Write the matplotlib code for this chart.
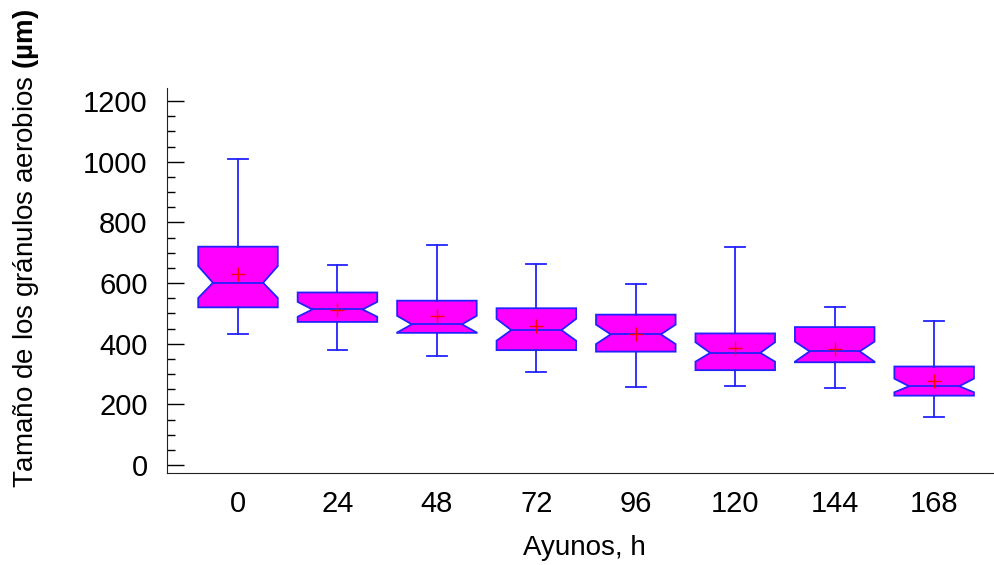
import matplotlib
matplotlib.use("Agg")
import numpy as np
import matplotlib.pyplot as plt
from matplotlib.ticker import MultipleLocator

plt.rcParams['font.family'] = ['Liberation Sans', 'DejaVu Sans']
plt.rcParams['mathtext.fontset'] = 'custom'
plt.rcParams['mathtext.rm'] = 'Liberation Sans'
plt.rcParams['mathtext.bf'] = 'Liberation Sans:bold'

categories = ["0", "24", "48", "72", "96", "120", "144", "168"]
whis_hi = [1010, 658, 726, 662, 598, 718, 520, 476]
q3 = [720, 569, 542, 517, 496, 434, 455, 325]
ci_hi = [656, 538, 492, 482, 463, 405, 407, 285]
medians = [601, 513, 464, 445, 431, 370, 375, 260]
ci_lo = [551, 489, 437, 410, 399, 341, 341, 240]
q1 = [520, 472, 436, 379, 374, 313, 339, 229]
whis_lo = [432, 379, 359, 306, 258, 262, 253, 159]
means = [630, 511, 492, 459, 431, 385, 382, 278]

stats = []
for i, c in enumerate(categories):
    stats.append(dict(label=c, med=medians[i], q1=q1[i], q3=q3[i],
                      whislo=whis_lo[i], whishi=whis_hi[i],
                      cilo=ci_lo[i], cihi=ci_hi[i], mean=means[i], fliers=[]))

fig = plt.figure(figsize=(9.94, 5.65), dpi=100)
ax = fig.add_axes([0.168, 1 - 473 / 565, 1 - 0.168, (473 - 88) / 565])

edge = '#2222ff'
width = 0.8
positions = list(range(len(categories)))
res = ax.bxp(stats, positions=positions, widths=width, shownotches=True,
             showmeans=True, showfliers=False, patch_artist=True,
             capwidths=0.2,
             boxprops=dict(facecolor='#ff00ff', edgecolor=edge, linewidth=1.3),
             medianprops=dict(color=edge, linewidth=1.3),
             whiskerprops=dict(color=edge, linewidth=1.3),
             capprops=dict(color=edge, linewidth=1.3),
             meanprops=dict(marker='+', markeredgecolor='red', markersize=10,
                            markeredgewidth=1.0))

# shallower notches (inner half-width 0.315 of box width instead of 0.25)
inner = 0.315 * width
for pos, box, med in zip(positions, res['boxes'], res['medians']):
    verts = box.get_path().vertices
    for v in verts:
        if abs(abs(v[0] - pos) - 0.25 * width) < 1e-6:
            v[0] = pos + np.sign(v[0] - pos) * inner
    med.set_xdata([pos - inner, pos + inner])

ax.set_xlim(-0.714, -0.714 + 827 / 99.45)
ax.set_ylim(-26, 1243)
ax.yaxis.set_major_locator(MultipleLocator(200))
ax.yaxis.set_minor_locator(MultipleLocator(50))
ax.tick_params(axis='y', which='major', direction='in', length=12, width=1,
               labelsize=21, pad=14)
ax.tick_params(axis='y', which='minor', direction='in', length=6, width=1)
ax.tick_params(axis='x', which='both', length=0, labelsize=21, pad=12)
ax.set_xticks(positions)
ax.set_xticklabels(categories)

for s in ['top', 'right']:
    ax.spines[s].set_visible(False)
ax.spines['left'].set_color('#222222')
ax.spines['bottom'].set_color('#222222')

fig.text(0.588, 1 - 548 / 565, "Ayunos, h", ha='center', va='center', fontsize=20)
fig.text(0.026, 1 - 248 / 565, r"Tamaño de los gránulos aerobios $\mathbf{(µm)}$",
         ha='center', va='center', rotation=90, fontsize=20)

fig.savefig("out.png", dpi=100)
